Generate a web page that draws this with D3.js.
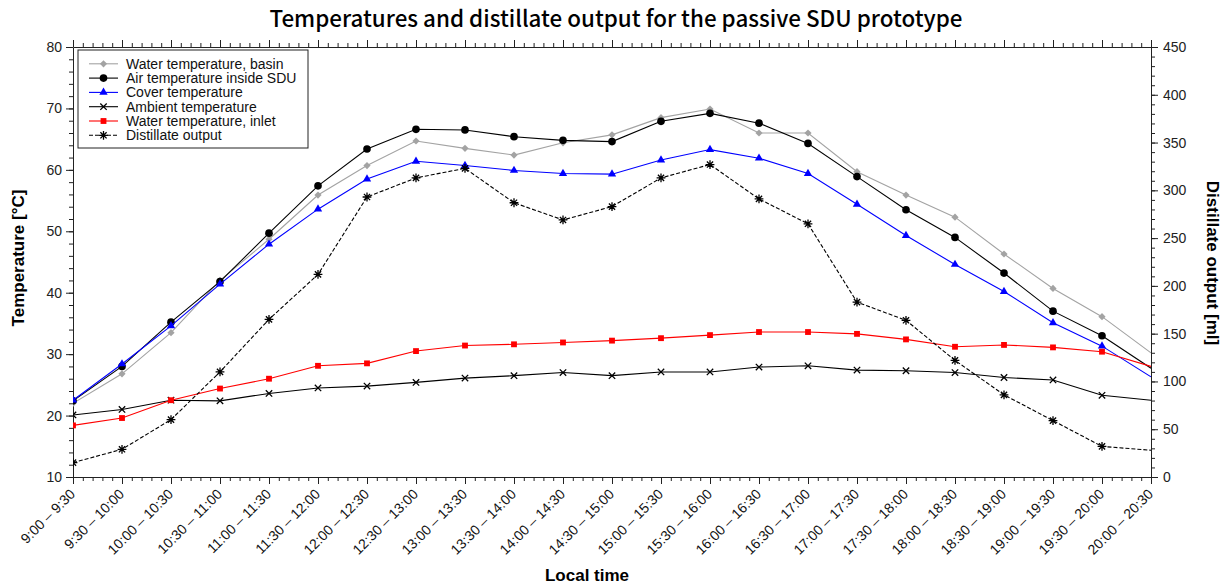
<!DOCTYPE html>
<html>
<head>
<meta charset="utf-8">
<script src="https://cdn.jsdelivr.net/npm/d3@7"></script>
<style>
  body { margin: 0; background: #fff; }
  svg { display: block; }
  .tick-num { font-family: "Liberation Sans", Arial, sans-serif; font-size: 14px; fill: #222; }
  .cat { font-family: "Liberation Sans", Arial, sans-serif; font-size: 14px; fill: #111; }
  .ttl { font-family: "Noto Sans CJK JP", "Noto Sans", sans-serif; font-weight: 500; fill: #000; }
  .axt { font-family: "Liberation Sans", Arial, sans-serif; font-weight: 700; font-size: 17px; fill: #000; }
  .lg { font-family: "Liberation Sans", Arial, sans-serif; font-size: 14px; fill: #111; }
</style>
</head>
<body>
<svg width="1231" height="586"></svg>
<script>
// categories along the x axis
const slots = ["9:00 – 9:30", "9:30 – 10:00", "10:00 – 10:30", "10:30 – 11:00", "11:00 – 11:30",
  "11:30 – 12:00", "12:00 – 12:30", "12:30 – 13:00", "13:00 – 13:30", "13:30 – 14:00",
  "14:00 – 14:30", "14:30 – 15:00", "15:00 – 15:30", "15:30 – 16:00", "16:00 – 16:30",
  "16:30 – 17:00", "17:00 – 17:30", "17:30 – 18:00", "18:00 – 18:30", "18:30 – 19:00",
  "19:00 – 19:30", "19:30 – 20:00", "20:00 – 20:30"];

// temperatures [°C]
const waterBasin = [22.0, 26.8, 33.5, 42.0, 48.7, 55.9, 60.7, 64.7, 63.5, 62.4, 64.4, 65.7,
  68.5, 69.9, 66.0, 66.0, 59.7, 55.9, 52.3, 46.3, 40.7, 36.1, 30.2];
const airInside = [22.4, 28.0, 35.2, 41.8, 49.7, 57.4, 63.4, 66.6, 66.5, 65.4, 64.8, 64.6,
  67.9, 69.2, 67.6, 64.3, 58.9, 53.5, 49.0, 43.2, 37.0, 33.0, 27.7];
const cover = [22.5, 28.4, 34.6, 41.4, 47.9, 53.6, 58.5, 61.4, 60.7, 59.9, 59.4, 59.3,
  61.6, 63.3, 61.9, 59.4, 54.4, 49.3, 44.6, 40.2, 35.1, 31.3, 26.3];
const ambient = [20.1, 21.0, 22.5, 22.4, 23.6, 24.5, 24.8, 25.4, 26.1, 26.5, 27.0, 26.5,
  27.1, 27.1, 27.9, 28.1, 27.4, 27.3, 27.0, 26.2, 25.8, 23.3, 22.5];
const waterInlet = [18.4, 19.6, 22.5, 24.4, 26.0, 28.1, 28.5, 30.5, 31.4, 31.6, 31.9, 32.2,
  32.6, 33.1, 33.6, 33.6, 33.3, 32.4, 31.2, 31.5, 31.1, 30.4, 28.0];
// distillate output [ml]
const distillate = [15, 29, 60, 110, 165, 212, 293, 313, 323, 287, 269, 283,
  313, 327, 291, 265, 183, 164, 122, 86, 59, 32, 28];

const tempTicks = [10, 20, 30, 40, 50, 60, 70, 80];
const mlTicks = [0, 50, 100, 150, 200, 250, 300, 350, 400, 450];

const svg = d3.select("svg");
const L = 73, R = 1151, T = 47, B = 477;

const x = d3.scalePoint().domain(slots).range([L, R]);
const xi = d3.scaleLinear().domain([0, slots.length - 1]).range([L, R]);
const yT = d3.scaleLinear().domain([10, 80]).range([B, T]);
const yM = d3.scaleLinear().domain([0, 450]).range([B, T]);

svg.append("defs").append("clipPath").attr("id", "plot")
  .append("rect").attr("x", L).attr("y", T - 10).attr("width", R - L).attr("height", B - T + 20);

const minorX = d3.range(0, slots.length - 1 + 0.001, 0.2);

// bottom + top axes with minor ticks
svg.append("g").attr("transform", `translate(0,${B})`)
  .call(d3.axisBottom(x).tickSize(7).tickSizeOuter(0).tickFormat(""));
svg.append("g").attr("transform", `translate(0,${B})`)
  .call(d3.axisBottom(xi).tickValues(minorX).tickSize(4).tickFormat("").tickSizeOuter(0))
  .call(g => g.select(".domain").remove());

svg.append("g").attr("transform", `translate(0,${T})`)
  .call(d3.axisTop(x).tickSize(7).tickSizeOuter(0).tickFormat(""));
svg.append("g").attr("transform", `translate(0,${T})`)
  .call(d3.axisTop(xi).tickValues(minorX).tickSize(4).tickFormat("").tickSizeOuter(0))
  .call(g => g.select(".domain").remove());

// left + right value axes
const axLeft = svg.append("g").attr("transform", `translate(${L},0)`)
  .call(d3.axisLeft(yT).tickValues(tempTicks).tickSize(7).tickSizeOuter(0).tickPadding(4));
svg.append("g").attr("transform", `translate(${L},0)`)
  .call(d3.axisLeft(yT).tickValues(d3.range(10, 80.1, 2)).tickSize(4).tickFormat("").tickSizeOuter(0))
  .call(g => g.select(".domain").remove());

const axRight = svg.append("g").attr("transform", `translate(${R},0)`)
  .call(d3.axisRight(yM).tickValues(mlTicks).tickSize(7).tickSizeOuter(0).tickPadding(5));
svg.append("g").attr("transform", `translate(${R},0)`)
  .call(d3.axisRight(yM).tickValues(d3.range(0, 450.1, 10)).tickSize(4).tickFormat("").tickSizeOuter(0))
  .call(g => g.select(".domain").remove());

svg.selectAll(".tick line").attr("stroke", "#222");
svg.selectAll(".domain").attr("stroke", "#222");
axLeft.selectAll("text").attr("class", "tick-num").attr("font-size", null).attr("font-family", null);
axRight.selectAll("text").attr("class", "tick-num").attr("font-size", null).attr("font-family", null);

// rotated category labels
svg.append("g").selectAll("text").data(slots).join("text")
  .attr("class", "cat")
  .attr("text-anchor", "end")
  .attr("transform", d => `translate(${x(d) + 3},${B + 18}) rotate(-45)`)
  .text(d => d);

// titles
svg.append("text").attr("class", "ttl").attr("x", 616).attr("y", 27)
  .attr("text-anchor", "middle").attr("font-size", 22.4)
  .text("Temperatures and distillate output for the passive SDU prototype");
svg.append("text").attr("class", "axt").attr("x", 587).attr("y", 581)
  .attr("text-anchor", "middle").text("Local time");
svg.append("text").attr("class", "axt").attr("text-anchor", "middle")
  .attr("transform", `translate(24,258) rotate(-90)`)
  .text("Temperature [°C]");
svg.append("text").attr("class", "axt").attr("text-anchor", "middle")
  .attr("transform", `translate(1207,263) rotate(90)`)
  .text("Distillate output [ml]");

// marker shapes
function starPath(r) {
  const d = r * 0.707;
  return `M${-r},0L${r},0M0,${-r}L0,${r}M${-d},${-d}L${d},${d}M${-d},${d}L${d},${-d}`;
}
function timesPath(r) {
  return `M${-r},${-r}L${r},${r}M${-r},${r}L${r},${-r}`;
}
function diamondPath(r) {
  return `M0,${-r}L${r},0L0,${r}L${-r},0Z`;
}
const series = [
  { name: "Water temperature, basin", values: waterBasin, y: yT, color: "#a3a3a3",
    shape: "fill", sym: diamondPath(3.6) },
  { name: "Air temperature inside SDU", values: airInside, y: yT, color: "#000",
    shape: "fill", sym: d3.symbol(d3.symbolCircle, 46)() },
  { name: "Cover temperature", values: cover, y: yT, color: "#0000ff",
    shape: "fill", sym: d3.symbol(d3.symbolTriangle, 30)() },
  { name: "Ambient temperature", values: ambient, y: yT, color: "#000",
    shape: "stroke", sym: timesPath(3.2) },
  { name: "Water temperature, inlet", values: waterInlet, y: yT, color: "#ff0000",
    shape: "fill", sym: d3.symbol(d3.symbolSquare, 34)() },
  { name: "Distillate output", values: distillate, y: yM, color: "#000",
    shape: "stroke", sym: starPath(4.4), dash: "4,2" }
];

const plot = svg.append("g").attr("clip-path", "url(#plot)");
series.forEach(s => {
  const line = d3.line().x((d, i) => x(slots[i])).y(d => s.y(d));
  plot.append("path").datum(s.values)
    .attr("fill", "none").attr("stroke", s.color).attr("stroke-width", 1.1)
    .attr("stroke-dasharray", s.dash || null)
    .attr("d", line);
  plot.append("g").selectAll("path").data(s.values.slice(0, -1)).join("path")
    .attr("transform", (d, i) => `translate(${x(slots[i])},${s.y(d)})`)
    .attr("d", s.sym)
    .attr("fill", s.shape === "fill" ? s.color : "none")
    .attr("stroke", s.shape === "stroke" ? s.color : "none")
    .attr("stroke-width", 1.3);
});

// legend
const lg = svg.append("g").attr("transform", "translate(78,50)");
lg.append("rect").attr("width", 230).attr("height", 98)
  .attr("fill", "#fff").attr("stroke", "#222").attr("stroke-width", 1);
series.forEach((s, i) => {
  const yy = 13.8 + i * 14.3;
  lg.append("line").attr("x1", 11).attr("x2", 40).attr("y1", yy).attr("y2", yy)
    .attr("stroke", s.color).attr("stroke-width", 1.1).attr("stroke-dasharray", s.dash || null);
  lg.append("path").attr("transform", `translate(25.5,${yy})`).attr("d", s.sym)
    .attr("fill", s.shape === "fill" ? s.color : "none")
    .attr("stroke", s.shape === "stroke" ? s.color : "none").attr("stroke-width", 1.3);
  lg.append("text").attr("class", "lg").attr("x", 48).attr("y", yy + 5).text(s.name);
});
</script>
</body>
</html>
